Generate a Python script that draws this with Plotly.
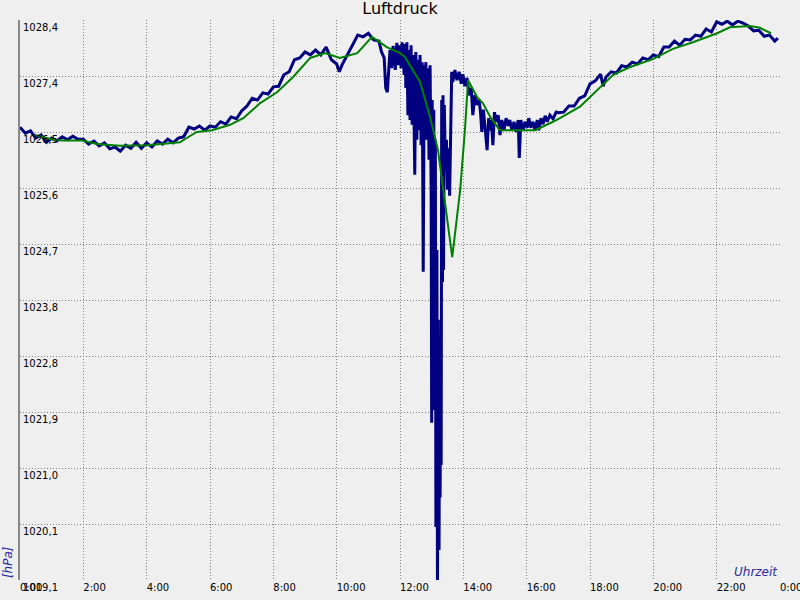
import plotly.graph_objects as go

# ---- data (time in minutes of day, pressure in hPa) ----
raw_minutes = [0, 10, 20, 30, 40, 50, 60, 70, 80, 90, 100, 110, 120, 130, 140, 150, 160, 170, 180, 190,
               200, 210, 220, 230, 240, 250, 260, 270, 280, 290, 300, 310, 320, 330, 340, 350, 360, 370, 380, 390,
               400, 410, 420, 430, 440, 450, 460, 470, 480, 490, 500, 510, 520, 530, 540, 550, 560, 570, 580, 590,
               600, 605, 610, 620, 630, 640, 650, 660, 670, 680, 685, 690, 693, 696, 701, 704, 707, 711, 714, 717,
               720, 722, 724, 728, 730, 731, 733, 735, 737, 739, 741, 743, 745, 747, 748, 750, 752, 754, 756, 758,
               760, 762, 764, 766, 767, 769, 771, 773, 775, 777, 779, 780, 781, 782.5, 784, 785.5, 787, 788, 790, 791,
               792.5, 794, 795, 796, 797, 798, 799, 800.5, 801.5, 802.5, 804, 806, 808, 810, 812, 814, 816, 818, 820, 824,
               828, 832, 836, 839, 843, 847, 851, 855, 858, 862, 866, 870, 872.5, 875, 878, 881, 885, 888, 890.5, 893,
               896, 899, 902, 906, 909.5, 913, 917, 921, 925, 928, 932, 936, 940, 944, 946, 949, 953, 957, 961, 964,
               968, 972, 976, 980, 983, 987, 991, 995, 999, 1004, 1010, 1016, 1020, 1030, 1040, 1050, 1060, 1070, 1080, 1090,
               1100, 1105, 1110, 1120, 1130, 1140, 1150, 1160, 1170, 1180, 1190, 1200, 1210, 1220, 1230, 1240, 1250, 1260, 1270, 1280,
               1290, 1300, 1310, 1320, 1330, 1340, 1350, 1360, 1370, 1380, 1390, 1400, 1410, 1420, 1430, 1436]
raw_hpa = [1026.62, 1026.52, 1026.56, 1026.44, 1026.49, 1026.37, 1026.44, 1026.39, 1026.46, 1026.41, 1026.47, 1026.42, 1026.42, 1026.34, 1026.39, 1026.31, 1026.36, 1026.26, 1026.29, 1026.22,
           1026.32, 1026.27, 1026.37, 1026.27, 1026.36, 1026.29, 1026.39, 1026.34, 1026.42, 1026.36, 1026.44, 1026.46, 1026.62, 1026.59, 1026.64, 1026.57, 1026.64, 1026.62, 1026.71, 1026.67,
           1026.79, 1026.76, 1026.89, 1026.97, 1027.10, 1027.07, 1027.19, 1027.17, 1027.29, 1027.30, 1027.49, 1027.54, 1027.74, 1027.77, 1027.87, 1027.82, 1027.90, 1027.82, 1027.95, 1027.74,
           1027.67, 1027.54, 1027.65, 1027.82, 1027.97, 1028.15, 1028.12, 1028.18, 1028.07, 1028.05, 1027.87, 1027.77, 1027.27, 1027.20, 1027.90, 1027.60, 1027.97, 1027.57, 1028.02, 1027.65,
           1027.98, 1027.60, 1028.03, 1027.49, 1028.00, 1027.27, 1028.03, 1026.82, 1027.90, 1026.74, 1027.98, 1026.66, 1027.82, 1026.51, 1025.83, 1027.87, 1026.41, 1027.74, 1026.57, 1027.82,
           1026.32, 1027.70, 1024.22, 1027.65, 1026.74, 1027.70, 1026.41, 1027.60, 1026.08, 1027.65, 1025.58, 1021.71, 1027.07, 1021.92, 1026.91, 1023.09, 1026.41, 1019.98, 1024.58, 1018.77,
           1023.42, 1019.60, 1022.75, 1020.47, 1022.42, 1021.01, 1027.07, 1024.05, 1027.15, 1024.25, 1026.99, 1025.91, 1026.41, 1025.58, 1026.27, 1025.48, 1027.07, 1027.54, 1027.37, 1027.57,
           1027.40, 1027.54, 1027.34, 1027.50, 1027.30, 1027.44, 1027.15, 1027.27, 1026.82, 1027.15, 1026.99, 1027.07, 1026.87, 1026.54, 1026.91, 1026.66, 1026.24, 1026.77, 1026.57, 1026.74,
           1026.32, 1026.87, 1026.71, 1026.82, 1026.49, 1026.74, 1026.57, 1026.77, 1026.64, 1026.74, 1026.57, 1026.71, 1026.54, 1026.74, 1026.11, 1026.74, 1026.57, 1026.71, 1026.61, 1026.77,
           1026.61, 1026.71, 1026.57, 1026.74, 1026.57, 1026.77, 1026.67, 1026.81, 1026.71, 1026.82, 1026.76, 1026.87, 1026.86, 1026.87, 1026.97, 1026.97, 1027.10, 1027.14, 1027.34, 1027.39,
           1027.50, 1027.30, 1027.45, 1027.54, 1027.52, 1027.64, 1027.62, 1027.70, 1027.67, 1027.77, 1027.74, 1027.82, 1027.79, 1027.95, 1027.95, 1028.05, 1027.98, 1028.08, 1028.07, 1028.15,
           1028.13, 1028.25, 1028.20, 1028.37, 1028.33, 1028.38, 1028.32, 1028.38, 1028.35, 1028.30, 1028.22, 1028.23, 1028.13, 1028.15, 1028.05, 1028.10]

smooth_minutes = [28, 63, 81, 117, 146, 189, 241, 265, 303, 316, 335, 364, 398, 423, 455, 487, 517, 550, 578, 606,
                  639, 667, 695, 720, 729, 758, 777, 792, 801, 819, 834, 843, 849, 866, 877, 891, 909, 976, 1010, 1023,
                  1061, 1099, 1124, 1156, 1199, 1237, 1275, 1321, 1345, 1383, 1402, 1423]
smooth_hpa = [1026.49, 1026.41, 1026.40, 1026.40, 1026.34, 1026.31, 1026.32, 1026.34, 1026.37, 1026.44, 1026.54, 1026.57, 1026.66, 1026.77, 1027.02, 1027.20, 1027.45, 1027.77, 1027.85, 1027.77,
              1027.85, 1028.12, 1027.95, 1027.85, 1027.79, 1027.37, 1026.79, 1026.24, 1025.63, 1024.46, 1025.58, 1026.57, 1027.40, 1027.12, 1027.02, 1026.79, 1026.57, 1026.57, 1026.71, 1026.77,
              1026.96, 1027.29, 1027.49, 1027.62, 1027.75, 1027.92, 1028.03, 1028.18, 1028.28, 1028.30, 1028.27, 1028.18]

x_tick_minutes = [0, 120, 240, 360, 480, 600, 720, 840, 960, 1080, 1200, 1320, 1440]
x_tick_labels = ["0:00", "2:00", "4:00", "6:00", "8:00", "10:00", "12:00", "14:00", "16:00", "18:00", "20:00", "22:00", "0:00"]
y_tick_values = [1019.10, 1020.03, 1020.96, 1021.89, 1022.82, 1023.75, 1024.68, 1025.61, 1026.54, 1027.47, 1028.40]
y_tick_labels = ["1019,1", "1020,1", "1021,0", "1021,9", "1022,8", "1023,8", "1024,7", "1025,6", "1026,5", "1027,4", "1028,4"]

BG = "#efefef"
FONT = "DejaVu Sans"

fig = go.Figure()
fig.add_trace(go.Scatter(x=raw_minutes, y=raw_hpa, mode="lines",
                         line=dict(color="#000080", width=3), showlegend=False))
fig.add_trace(go.Scatter(x=smooth_minutes, y=smooth_hpa, mode="lines",
                         line=dict(color="#008000", width=2), showlegend=False))

grid = dict(showgrid=True, gridcolor="#808080", gridwidth=1, griddash="1px,2px", zeroline=False)

fig.update_layout(
    width=800, height=600,
    margin=dict(l=20, r=20, t=20, b=20, autoexpand=False),
    paper_bgcolor=BG, plot_bgcolor=BG,
    font=dict(family=FONT, size=10, color="#000000"),
    title=dict(text="Luftdruck", x=0.5, xanchor="center", y=0.986, yanchor="middle",
               font=dict(family=FONT, size=16, color="#000000")),
    xaxis=dict(range=[0, 1440], tickmode="array", tickvals=x_tick_minutes, ticktext=x_tick_labels,
               ticks="", ticklabelposition="outside right", ticklabelstandoff=0, automargin=False,
               ticklabeloverflow="allow", showline=False, fixedrange=True,
               tickfont=dict(family=FONT, size=10, color="#000000"), **grid),
    yaxis=dict(range=[1019.1 - 1e-6, 1028.4 + 1e-6], tickmode="array", tickvals=y_tick_values,
               ticktext=y_tick_labels, ticks="", ticklabelposition="inside bottom", ticklabelstandoff=1,
               automargin=False, ticklabeloverflow="allow",
               tickfont=dict(family=FONT, size=10, color="#000000"),
               showline=True, linecolor="#888888", linewidth=2, fixedrange=True, **grid),
    annotations=[
        dict(text="<i>[hPa]</i>", textangle=-90, xref="paper", yref="paper",
             x=-0.0158, y=0.032, xanchor="center", yanchor="middle", showarrow=False,
             font=dict(family=FONT, size=12, color="#2a2aa0")),
        dict(text="<i>Uhrzeit</i>", xref="paper", yref="paper", x=1.0, y=0.0143,
             xanchor="right", yanchor="middle", showarrow=False,
             font=dict(family=FONT, size=12, color="#2a2aa0")),
    ],
)

fig.write_html("out.html", config={"displayModeBar": False, "staticPlot": True},
               post_script="document.body.style.margin='0px';document.body.style.background='#efefef';")
